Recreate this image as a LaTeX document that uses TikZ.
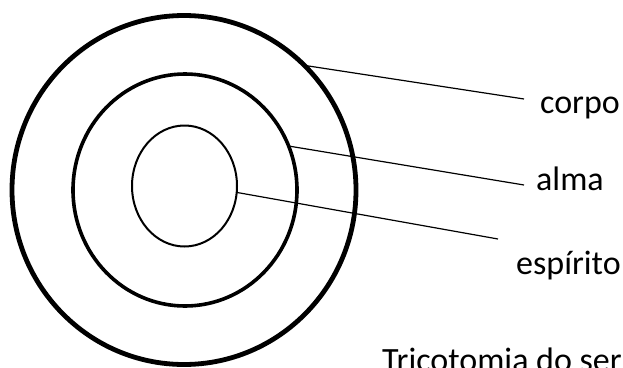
\documentclass[tikz,border=0pt]{standalone}
\usepackage{fontspec}
\setmainfont{Carlito}
\usetikzlibrary{shapes.geometric, positioning}

\begin{document}
\begin{tikzpicture}[
    x=1pt, y=-1pt,
    ring/.style={draw, ellipse, inner sep=0pt, outer sep=0pt},
    label/.style={anchor=base west, inner sep=0pt, font=\fontsize{34}{40}\selectfont},
    link/.style={draw, line width=1.2pt}
]
\useasboundingbox (0,0) rectangle (623,367);

% Rings
\node (outer) [ring, line width=4.8pt, minimum width=344pt, minimum height=349pt] at (184,190) {};
\node (middle) [ring, line width=3.6pt, minimum width=224pt, minimum height=232pt] at (185,190) {};
\node (inner) [ring, line width=2pt, minimum width=105pt, minimum height=121pt] at (184.5,186) {};

% Labels
\node (corpo) [label] at (540,113) {corpo};
\node (alma) [label] at (536,190) {alma};
\node (espirito) [label] at (516,274) {espírito};
\node (title) [label] at (382,371) {Tricotomia do ser};

% Ends
\coordinate (corpo end) at (524,99);
\coordinate (alma end) at (524,185);
\coordinate (espirito end) at (498,239);

% Paths
\draw [link] (outer.46) -- (corpo end);
\draw [link] (middle.23) -- (alma end);
\draw [link] (inner.-7.6) -- (espirito end);

\end{tikzpicture}
\end{document}
